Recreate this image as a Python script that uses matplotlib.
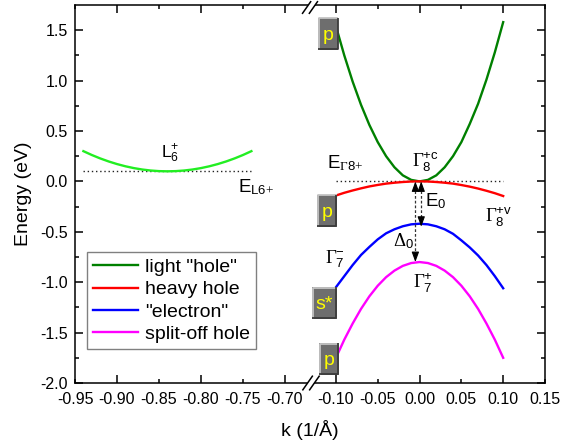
import matplotlib
matplotlib.use("Agg")
import matplotlib.pyplot as plt
from matplotlib.patches import Rectangle, Polygon
from matplotlib.lines import Line2D

plt.rcParams['font.family'] = ['Liberation Sans', 'DejaVu Sans']
plt.rcParams['mathtext.fontset'] = 'custom'
plt.rcParams['mathtext.rm'] = 'Liberation Serif'
plt.rcParams['mathtext.sf'] = 'Liberation Sans'
plt.rcParams['mathtext.it'] = 'Liberation Serif:italic'
plt.rcParams['mathtext.bf'] = 'Liberation Serif:bold'

# ---- band data -------------------------------------------------------
# L point (left segment of the k axis)
k_L = [-0.94, -0.93, -0.92, -0.91, -0.90, -0.89, -0.88, -0.87, -0.86, -0.85,
       -0.84, -0.83, -0.82, -0.81, -0.80, -0.79, -0.78, -0.77, -0.76, -0.75, -0.74]
E_L6 = [0.300, 0.262, 0.228, 0.198, 0.172, 0.150, 0.132, 0.118, 0.108, 0.102,
        0.100, 0.102, 0.108, 0.118, 0.132, 0.150, 0.172, 0.198, 0.228, 0.262, 0.300]
E_L6_edge = 0.10

# Gamma point (right segment of the k axis)
k_G = [-0.10, -0.09, -0.08, -0.07, -0.06, -0.05, -0.04, -0.03, -0.02, -0.01,
       0.00, 0.01, 0.02, 0.03, 0.04, 0.05, 0.06, 0.07, 0.08, 0.09, 0.10]
E_light = [1.54, 1.25, 0.99, 0.76, 0.56, 0.39, 0.25, 0.14, 0.06, 0.015,
           0.00, 0.015, 0.06, 0.14, 0.25, 0.39, 0.57, 0.77, 1.01, 1.28, 1.58]
E_heavy = [-0.140, -0.113, -0.090, -0.069, -0.050, -0.035, -0.022, -0.013, -0.006, -0.001,
           0.000, -0.001, -0.006, -0.013, -0.022, -0.036, -0.052, -0.071, -0.093, -0.117, -0.145]
E_electron = [-1.05, -0.94, -0.83, -0.73, -0.65, -0.575, -0.515, -0.475, -0.445, -0.426,
              -0.42, -0.426, -0.445, -0.475, -0.52, -0.585, -0.655, -0.735, -0.83, -0.94, -1.06]
E_splitoff = [-1.75, -1.57, -1.41, -1.265, -1.14, -1.035, -0.95, -0.885, -0.838, -0.81,
              -0.80, -0.81, -0.838, -0.885, -0.95, -1.035, -1.14, -1.265, -1.41, -1.57, -1.75]
E_G8 = 0.0

legend_labels = ['light "hole"', 'heavy hole', '"electron"', 'split-off hole']
band_colors = ['#008000', '#ff0000', '#0000ff', '#ff00ff']

xt_left_major = [-0.90, -0.80, -0.70]
xt_left_minor = [-0.95, -0.85, -0.75]
xt_right_major = [-0.10, 0.00, 0.10]
xt_right_minor = [-0.05, 0.05, 0.15]
yt_major = [-2.0, -1.5, -1.0, -0.5, 0.0, 0.5, 1.0, 1.5]
yt_minor = [-1.75, -1.25, -0.75, -0.25, 0.25, 0.75, 1.25]

# ---- figure layout (pixel based) -------------------------------------
W, H = 561, 443
fig = plt.figure(figsize=(W / 100, H / 100), dpi=100)


def fx(px):
    return px / W


def fy(py):
    return 1 - py / H


x0, xb, x1 = 75, 310, 545
ytop, ybot = 5, 383
axL = fig.add_axes([fx(x0), fy(ybot), fx(xb) - fx(x0), fy(ytop) - fy(ybot)])
axR = fig.add_axes([fx(xb), fy(ybot), fx(x1) - fx(xb), fy(ytop) - fy(ybot)])

axL.set_xlim(-0.95, -0.6702)
axR.set_xlim(-0.131, 0.15)
for ax in (axL, axR):
    ax.set_ylim(-2.0, 1.75)
    for s in ax.spines.values():
        s.set_linewidth(1.1)
axL.spines['right'].set_visible(False)
axR.spines['left'].set_visible(False)


def fmt(v):
    return '%.2f' % v if abs(v) > 1e-9 else '0.00'


axL.set_xticks(xt_left_major, [fmt(v) for v in xt_left_major])
axL.set_xticks(xt_left_minor, [fmt(v) for v in xt_left_minor], minor=True)
axR.set_xticks(xt_right_major, [fmt(v) for v in xt_right_major])
axR.set_xticks(xt_right_minor, [fmt(v) for v in xt_right_minor], minor=True)
axL.set_yticks(yt_major, ['%.1f' % v for v in yt_major])
axL.set_yticks(yt_minor, minor=True)
axR.set_yticks(yt_major)
axR.set_yticks(yt_minor, minor=True)

for ax in (axL, axR):
    ax.tick_params(axis='x', which='both', direction='in', top=True, bottom=True,
                   labelsize=11.5, pad=6.5, width=1.1)
    ax.tick_params(axis='x', which='major', length=5.8)
    ax.tick_params(axis='x', which='minor', length=3.2)
    ax.tick_params(axis='y', which='major', direction='in', length=5.8, width=1.1)
    ax.tick_params(axis='y', which='minor', direction='in', length=3.2, width=1.1)
axL.tick_params(axis='y', which='both', left=True, right=False, labelsize=11.5, pad=5)
axR.tick_params(axis='y', which='both', left=False, right=True,
                labelleft=False, labelright=False)

fig.text(fx(310), fy(430), 'k (1/Å)', ha='center', va='center', fontsize=14)
fig.text(fx(24), fy(194), 'Energy (eV)', ha='center', va='center',
         rotation=90, fontsize=14)

# ---- curves ----------------------------------------------------------
dot = (0, (1, 2))
axL.plot([k_L[0], k_L[-1]], [E_L6_edge, E_L6_edge], ls=dot, color='#222222', lw=1.0, zorder=2)
axL.plot(k_L, E_L6, color='#22ee22', lw=1.7, zorder=3)

axR.plot([k_G[0], k_G[-1]], [E_G8, E_G8], ls=dot, color='#222222', lw=1.0, zorder=2)
handles = []
for E, c, lab in zip([E_light, E_heavy, E_electron, E_splitoff], band_colors, legend_labels):
    ln, = axR.plot(k_G, E, color=c, lw=1.7, zorder=3, label=lab)
    handles.append(ln)

# gap arrows at the zone centre
dash = (0, (2.2, 1.6))
k_D0, k_E0 = -0.005, 0.002
E_so_top = E_splitoff[10]
E_el_top = -0.45
head = dict(arrowstyle='-|>,head_length=0.6,head_width=0.22', color='k', lw=0.8,
            shrinkA=0, shrinkB=0, mutation_scale=10)
for kk, Ebot in ((k_D0, E_so_top), (k_E0, E_el_top)):
    axR.plot([kk, kk], [E_G8 - 0.05, Ebot + 0.05], ls=dash, color='#333333', lw=0.9, zorder=4)
    axR.annotate('', xy=(kk, E_G8), xytext=(kk, E_G8 - 0.09), arrowprops=head, zorder=5)
    axR.annotate('', xy=(kk, Ebot), xytext=(kk, Ebot + 0.09), arrowprops=head, zorder=5)

# ---- band labels -----------------------------------------------------
axL.text(-0.8476, 0.227, r'$\mathsf{L}_{\mathsf{6}}^{\mathsf{{+}}}$', fontsize=12.5,
         ha='left', va='baseline')
axL.text(-0.756, -0.109, r'E$_{\mathsf{L6}{+}}$', fontsize=13.5, ha='left', va='baseline')
axR.text(-0.1107, 0.128, r'E$_{\Gamma\mathsf{8}{+}}$', fontsize=13.5, ha='left', va='baseline')
axR.text(-0.0088, 0.138, r'$\Gamma_{\mathsf{8}}^{\mathsf{{+}c}}$', fontsize=13.5,
         ha='left', va='baseline')
axR.text(0.0068, -0.247, r'E$_{\mathsf{0}}$', fontsize=13.5, ha='left', va='baseline')
axR.text(0.0788, -0.405, r'$\Gamma_{\mathsf{8}}^{\mathsf{{+}v}}$', fontsize=13.5,
         ha='left', va='baseline')
axR.text(-0.0315, -0.641, r'$\Delta_{\mathsf{0}}$', fontsize=13.5, ha='left', va='baseline')
axR.text(-0.113, -0.819, r'$\Gamma_{\mathsf{7}}^{\mathsf{{-}}}$', fontsize=13.5,
         ha='left', va='baseline')
axR.text(-0.0079, -1.066, r'$\Gamma_{\mathsf{7}}^{\mathsf{{+}}}$', fontsize=13.5,
         ha='left', va='baseline')

# ---- orbital-character buttons ---------------------------------------
fig.canvas.draw()


def button(ax, k, E, text, wpx=20, hpx=32):
    cx, cy = ax.transData.transform((k, E))
    l, r = cx - wpx / 2, cx + wpx / 2
    b, t = cy - hpx / 2, cy + hpx / 2
    tf = fig.transFigure.inverted()
    (L, B), (R, T) = tf.transform([(l, b), (r, t)])
    fig.add_artist(Rectangle((L, B), R - L, T - B, transform=fig.transFigure,
                             facecolor='#6e6e6e', edgecolor='none', zorder=10))
    bev = 1.6 / W
    bevy = 1.6 / H
    fig.add_artist(Line2D([L + bev / 2, L + bev / 2, R], [B, T - bevy / 2, T - bevy / 2],
                          transform=fig.transFigure, color='#c4c4c4', lw=1.3, zorder=11,
                          solid_capstyle='butt'))
    fig.add_artist(Line2D([L, R - bev / 2, R - bev / 2], [B + bevy / 2, B + bevy / 2, T],
                          transform=fig.transFigure, color='#3c3c3c', lw=1.3, zorder=11,
                          solid_capstyle='butt'))
    base = tf.transform((cx, t - 22))[1]
    fig.text((L + R) / 2, base, text, color='#ffff00', fontsize=14,
             ha='center', va='baseline', zorder=12)


button(axR, -0.1089, 1.467, 'p')
button(axR, -0.1106, -0.289, 'p')
button(axR, -0.1136, -1.206, 's*', wpx=25)
button(axR, -0.1083, -1.762, 'p')

# ---- axis break marks ------------------------------------------------
for cx, cy, hh in ((310, 7.5, 5.8), (311, 383, 6.8)):
    d = 3.4
    s = hh * 0.7
    p1 = [(cx - d - s, cy + hh), (cx - d + s, cy - hh)]
    p2 = [(cx + d - s, cy + hh), (cx + d + s, cy - hh)]
    poly = [p1[0], p1[1], p2[1], p2[0]]
    fig.add_artist(Polygon([(fx(a), fy(b)) for a, b in poly], closed=True,
                           transform=fig.transFigure, facecolor='white',
                           edgecolor='none', zorder=8))
    for seg in (p1, p2):
        fig.add_artist(Line2D([fx(seg[0][0]), fx(seg[1][0])],
                              [fy(seg[0][1]), fy(seg[1][1])],
                              transform=fig.transFigure, color='k', lw=1.1, zorder=9))

# ---- legend ----------------------------------------------------------
leg = axL.legend(handles, legend_labels, loc='upper left',
                 bbox_to_anchor=(fx(87), fy(252)), bbox_transform=fig.transFigure,
                 borderaxespad=0, fontsize=14, borderpad=0.33, labelspacing=0.24,
                 handlelength=2.3, handletextpad=0.35, fancybox=False, framealpha=1)
leg.get_frame().set_edgecolor('#808080')
leg.get_frame().set_linewidth(1.0)

fig.savefig('out.png', dpi=100)
